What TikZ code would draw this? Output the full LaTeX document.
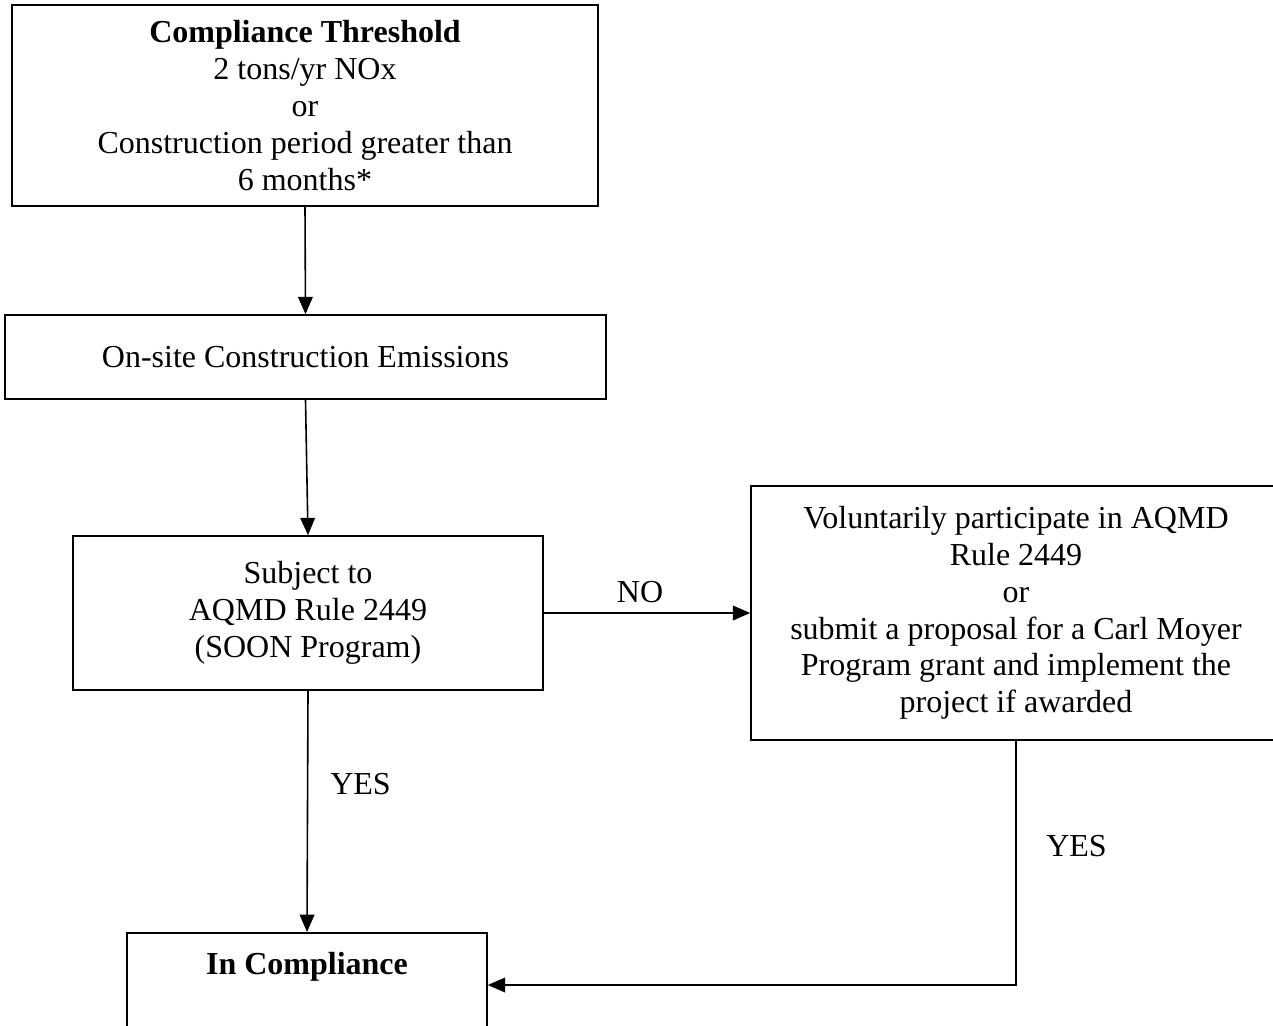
\documentclass[tikz,border=0pt]{standalone}
\usepackage{fontspec}
\setmainfont{Liberation Serif}
\usepackage{tikz}
\usetikzlibrary{arrows.meta}

\begin{document}
\begin{tikzpicture}[x=0.75pt,y=0.75pt,yscale=-1,xscale=1,
  flowbox/.style={draw, line width=1.2pt, align=center, inner sep=0pt, font=\fontsize{24}{27.6}\selectfont},
  flowarrow/.style={line width=1.2pt, -{Triangle[length=13pt,width=11pt]}},
  flowlabel/.style={inner sep=0.75pt, font=\fontsize{24}{27.6}\selectfont}]
%set diagram left start at 0, and has height of 1025
\path[use as bounding box, fill=white] (0,0) rectangle (1273,1025);
\clip (0,0) rectangle (1273,1025);

%Shape: Rectangle [id:thresh]
\node [flowbox, minimum width=439.5pt, minimum height=150.75pt] (thresh) at (305,105.5)
  {\textbf{Compliance Threshold}\\2 tons/yr NOx\\or\\Construction period greater than\\6 months*};
%Shape: Rectangle [id:onsite]
\node [flowbox, minimum width=450.75pt, minimum height=63pt] (onsite) at (305.5,357)
  {On-site Construction Emissions};
%Shape: Rectangle [id:soon]
\node [flowbox, minimum width=352.5pt, minimum height=115.5pt] (soon) at (308,613)
  {Subject to\\AQMD Rule 2449\\(SOON Program)};
%Shape: Rectangle [id:volunt]
\node [flowbox, minimum width=397.5pt, minimum height=190.5pt] (volunt) at (1016,613)
  {Voluntarily participate in AQMD\\Rule 2449\\or\\submit a proposal for a Carl Moyer\\Program grant and implement the\\project if awarded};
%Shape: Rectangle [id:comply]
\node [flowbox, minimum width=270pt, text height=31pt, text depth=70pt, anchor=north] (comply) at (307,932)
  {\textbf{In Compliance}};

%Straight Lines
\draw [flowarrow] (thresh.south) -- (onsite.north) ;
\draw [flowarrow] (onsite.south) -- (soon.north) ;
\draw [flowarrow] (soon.south) -- (comply.north) ;
\draw [flowarrow] (soon.east) -- (volunt.west) ;
%Elbow line
\coordinate (bend) at (1016,985);
\draw [flowarrow] (volunt.south) -- (bend) -- (bend -| comply.east) ;

% Text Node
\node [flowlabel] (nolabel) at (640,592) {NO};
% Text Node
\node [flowlabel, anchor=west] (yesleft) at (329,784) {YES};
% Text Node
\node [flowlabel, anchor=west] (yesright) at (1045,846) {YES};

\end{tikzpicture}
\end{document}
